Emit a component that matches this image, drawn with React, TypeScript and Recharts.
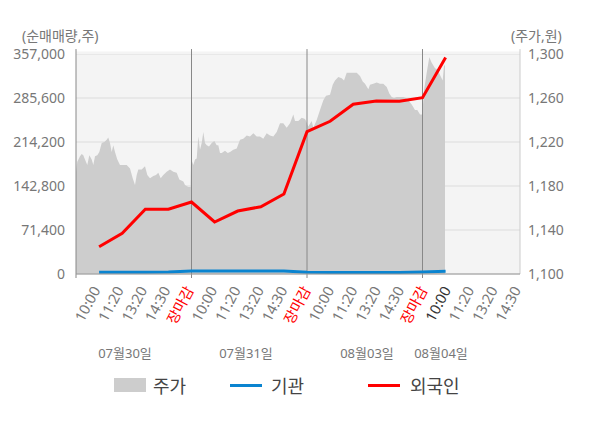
import { ComposedChart, Area, Line, XAxis, YAxis, CartesianGrid, ReferenceLine, ReferenceArea } from 'recharts';

// x positions are in "slots": 5 slots per trading day, day breaks at 5, 10, 15
const timeLabels = [
    '10:00', '11:20', '13:20', '14:30', '장마감',
    '10:00', '11:20', '13:20', '14:30', '장마감',
    '10:00', '11:20', '13:20', '14:30', '장마감',
    '10:00', '11:20', '13:20', '14:30',
];
const labelSlots = [1, 2, 3, 4, 5, 6, 7, 8, 9, 10, 11, 12, 13, 14, 15, 16, 17, 18, 19];
const dayLabels = ['07월30일', '07월31일', '08월03일', '08월04일'];
const dayLabelX = [125, 246, 367, 441];
const dayBreaks = [5, 10, 15];

const leftTicks = [0, 71400, 142800, 214200, 285600, 357000];
const rightTicks = [1100, 1140, 1180, 1220, 1260, 1300];

// 주가 (price, right axis)
const priceT = [
    0, 0.056, 0.173, 0.247, 0.316, 0.39, 0.489, 0.576, 0.68, 0.749, 0.823, 0.922,
    1.009, 1.113, 1.225, 1.329, 1.398, 1.472, 1.545, 1.615, 1.688, 1.788, 1.905,
    2.048, 2.195, 2.338, 2.455, 2.554, 2.628, 2.697, 2.844, 2.987,
    3.087, 3.203, 3.346, 3.463, 3.563, 3.667, 3.779, 3.926,
    4.069, 4.212, 4.359, 4.472, 4.645, 4.719, 4.861, 4.957,
    4.978, 5.078, 5.152, 5.225, 5.294, 5.368, 5.442, 5.511, 5.584, 5.658, 5.758, 5.874, 5.987,
    6.091, 6.16, 6.234, 6.307, 6.45, 6.567, 6.667, 6.81, 6.957,
    7.1, 7.242, 7.39, 7.532, 7.675, 7.823, 7.965,
    8.108, 8.255, 8.398, 8.541, 8.688, 8.831, 8.974,
    9.121, 9.264, 9.407, 9.481, 9.623, 9.771, 9.913,
    9.957, 10.056, 10.203, 10.273, 10.42, 10.563, 10.706, 10.823, 10.996,
    11.113, 11.212, 11.355, 11.502, 11.602, 11.719, 11.861,
    12.004, 12.152, 12.294, 12.411, 12.511, 12.654, 12.727, 12.87,
    13.017, 13.16, 13.303, 13.45, 13.563, 13.667, 13.766, 13.883,
    14.026, 14.169, 14.286, 14.385, 14.532, 14.675, 14.775, 14.892, 14.991,
    15.065, 15.182, 15.294, 15.398, 15.541, 15.645, 15.758, 15.874, 15.931, 15.974,
];
const priceValues = [
    1193, 1202, 1207, 1209, 1208, 1204, 1199, 1208, 1204, 1199, 1207, 1208,
    1211, 1219, 1220, 1222, 1224, 1219, 1211, 1217, 1211, 1204, 1199,
    1199, 1199, 1196, 1187, 1181, 1190, 1195, 1195, 1198,
    1190, 1187, 1189, 1190, 1192, 1187, 1190, 1193,
    1195, 1193, 1192, 1186, 1184, 1181, 1179, 1179,
    1205, 1199, 1204, 1205, 1225, 1213, 1219, 1229, 1219, 1217, 1216, 1219, 1221,
    1217, 1217, 1210, 1210, 1212, 1210, 1211, 1213, 1214,
    1222, 1223, 1226, 1225, 1228, 1225, 1225,
    1223, 1228, 1226, 1225, 1229, 1237, 1237,
    1233, 1237, 1245, 1239, 1239, 1242, 1241,
    1239, 1234, 1239, 1233, 1240, 1249, 1258, 1262, 1263,
    1272, 1276, 1279, 1278, 1276, 1283, 1283,
    1283, 1283, 1280, 1275, 1273, 1268, 1272, 1273,
    1274, 1273, 1273, 1270, 1264, 1261, 1260, 1261,
    1261, 1261, 1260, 1258, 1254, 1249, 1249, 1245, 1245,
    1267, 1283, 1297, 1292, 1287, 1286, 1281, 1276, 1290, 1289,
];

// 순매매량 (net volume, left axis)
const flowT = [1, 2, 3, 4, 5, 6, 7, 8, 9, 10, 11, 12, 13, 14, 15, 16];
const institution = [2800, 2800, 2800, 3200, 4800, 4800, 4800, 4800, 4800, 3000, 2400, 2400, 2400, 2400, 3400, 4600];
const foreigner = [44300, 66000, 105000, 105000, 116800, 84400, 102200, 109200, 129800, 230900, 247800, 275500, 280700, 280200, 286100, 351300];

const rows: any[] = [
    ...priceT.map((t, i) => ({ t, price: priceValues[i] })),
    ...flowT.map((t, i) => ({ t, inst: institution[i], foreign: foreigner[i] })),
].sort((a, b) => a.t - b.t);

const X_MAX = 19.22;
// time labels are spread evenly over the full axis width
const labelTicks = labelSlots.map((k) => (k * X_MAX) / 19);

function TimeTick(props: any) {
    const { x, y, index } = props;
    const label = timeLabels[index];
    let color = '#777';
    if (label === '장마감') color = '#ff0000';
    else if (index === 15) color = '#333';
    const ax = x + 1.5;
    const ay = y + 8;
    return (
        <text x={ax} y={ay} textAnchor="end" fontSize={14.5} fill={color} transform={`rotate(-62 ${ax} ${ay})`}>
            {label}
        </text>
    );
}

const fmt = (v: number) => v.toLocaleString('en-US');

const abs = (left: number, top: number, extra: any = {}) => ({ position: 'absolute' as const, left, top, whiteSpace: 'nowrap' as const, ...extra });

function App() {
    return (
        <div style={{ position: 'absolute', left: 0, top: 0, width: 600, height: 428, background: '#fff', fontFamily: "'Noto Sans', 'Noto Sans CJK KR', sans-serif" }}>
            <ComposedChart width={600} height={428} data={rows} margin={{ top: 54, right: 20, bottom: 64, left: 16 }}>
                <XAxis xAxisId="t" dataKey="t" type="number" domain={[0, X_MAX]} ticks={labelTicks} interval={0}
                    tick={<TimeTick />} tickLine={false} axisLine={{ stroke: '#999' }} height={90} allowDataOverflow />
                <YAxis yAxisId="left" orientation="left" width={60} domain={[0, 357000]} ticks={leftTicks} interval={0}
                    tickFormatter={fmt} tick={{ fill: '#777', fontSize: 14 }} tickLine={false} axisLine={false} tickMargin={5} />
                <YAxis yAxisId="right" orientation="right" width={60} domain={[1100, 1300]} ticks={rightTicks} interval={0}
                    tickFormatter={fmt} tick={{ fill: '#777', fontSize: 14 }} tickLine={false} axisLine={false} />
                <ReferenceArea xAxisId="t" yAxisId="left" y1={357000} y2={361000} fill="#f4f4f4" fillOpacity={1} stroke="none" ifOverflow="visible" />
                <CartesianGrid xAxisId="t" yAxisId="left" vertical={false} stroke="#dcdcdc" fill="#f4f4f4" />
                <Area xAxisId="t" yAxisId="right" dataKey="price" type="linear" stroke="none" fill="#cdcdcd" fillOpacity={1}
                    connectNulls dot={false} activeDot={false} isAnimationActive={false} />
                {[0, ...dayBreaks].map((b) => (
                    <ReferenceLine key={b} xAxisId="t" yAxisId="left" segment={[{ x: b, y: -6500 }, { x: b, y: 365000 }]}
                        stroke="#888" ifOverflow="visible" />
                ))}
                <ReferenceLine xAxisId="t" yAxisId="left" segment={[{ x: X_MAX, y: 0 }, { x: X_MAX, y: 365000 }]}
                    stroke="#ccc" ifOverflow="visible" />
                <Line xAxisId="t" yAxisId="left" dataKey="inst" type="linear" stroke="#0a84d0" strokeWidth={3}
                    dot={false} activeDot={false} connectNulls isAnimationActive={false} />
                <Line xAxisId="t" yAxisId="left" dataKey="foreign" type="linear" stroke="#ff0000" strokeWidth={3}
                    dot={false} activeDot={false} connectNulls isAnimationActive={false} />
            </ComposedChart>

            <div style={abs(22, 26, { fontSize: 14, lineHeight: '20px', color: '#777' })}>(순매매량,주)</div>
            <div style={abs(511, 26, { fontSize: 14, lineHeight: '20px', color: '#777' })}>(주가,원)</div>

            {dayLabels.map((d, i) => (
                <div key={d} style={abs(dayLabelX[i], 343, { fontSize: 13, lineHeight: '20px', color: '#777', transform: 'translateX(-50%)' })}>{d}</div>
            ))}

            <div style={abs(114, 378, { width: 32, height: 14, background: '#cdcdcd' })} />
            <div style={abs(153, 373, { fontSize: 18, lineHeight: '26px', color: '#444' })}>주가</div>
            <div style={abs(230, 384, { width: 32, height: 3, background: '#0a84d0' })} />
            <div style={abs(271, 373, { fontSize: 18, lineHeight: '26px', color: '#444' })}>기관</div>
            <div style={abs(368, 384, { width: 32, height: 3, background: '#ff0000' })} />
            <div style={abs(410, 373, { fontSize: 18, lineHeight: '26px', color: '#444' })}>외국인</div>
        </div>
    );
}

export default App;
